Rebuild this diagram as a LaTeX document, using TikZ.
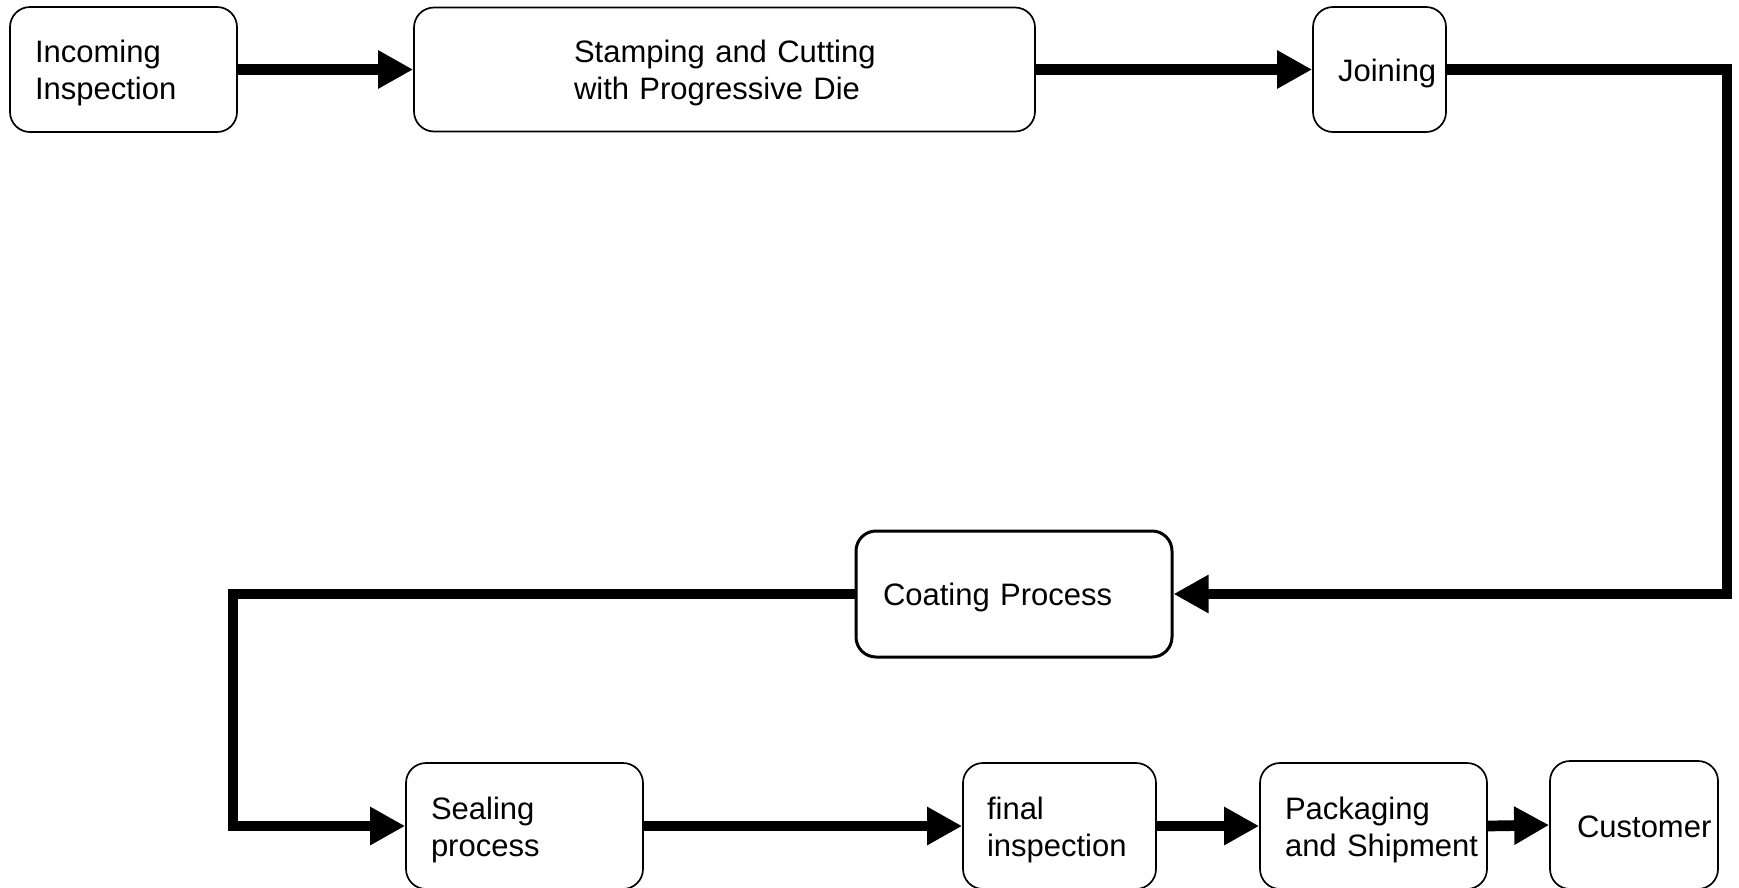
\documentclass[tikz,border=0pt]{standalone}
\usepackage{fontspec}
\setmainfont{Liberation Sans}
\usetikzlibrary{arrows.meta}
\begin{document}
\begin{tikzpicture}[x=1pt,y=-1pt,
  box/.style={draw=black, line width=1.7pt, rounded corners=20pt, align=left,
    font=\fontsize{31}{37}\selectfont, inner ysep=0pt,
    execute at begin node={\rule{0pt}{#1}}},
  box/.default=29.5pt,
  flow/.style={line width=10.7pt, -{Triangle[length=35pt,width=36pt]}}]
\useasboundingbox[fill=white] (0,0) rectangle (1739,887);

\node[box, text width=177pt, inner xsep=25pt, minimum height=125pt] (inc) at (123.5,69.5) {\mbox{Incoming}\\\mbox{Inspection}};
\node[box, text width=301pt, inner xsep=160pt, minimum height=124pt] (stamp) at (724.5,69.5) {\mbox{Stamping and Cutting}\\\mbox{with Progressive Die}};
\node[box, text width=83pt, inner xsep=25pt, minimum height=125pt] (join) at (1379.5,69.5) {\mbox{Joining}};
\node[box, line width=3pt, text width=262pt, inner xsep=27pt, minimum height=126pt] (coat) at (1014,594) {\mbox{Coating Process}};
\node[box, text width=187pt, inner xsep=25pt, minimum height=126pt] (seal) at (524.5,826) {\mbox{Sealing}\\\mbox{process}};
\node[box, text width=145pt, inner xsep=24pt, minimum height=126pt] (final) at (1059.5,826) {\mbox{final}\\\mbox{inspection}};
\node[box, text width=177pt, inner xsep=25pt, minimum height=126pt] (pack) at (1373.5,826) {\mbox{Packaging}\\\mbox{and Shipment}};
\node[box=25pt, text width=114pt, inner xsep=27pt, minimum height=128pt] (cust) at (1634,825) {\mbox{Customer}};

\coordinate (c1) at (1727,69.5);
\coordinate (c2) at (233,594);

\draw[flow] (inc.east) -- (stamp.west);
\draw[flow] (stamp.east) -- (join.west);
\draw[flow] (join.east) -- (c1) |- (coat.east);
\draw[flow] (coat.west) -- (c2) |- (seal.west);
\draw[flow] (seal.east) -- (final.west);
\draw[flow] (final.east) -- (pack.west);
\draw[flow] (pack.east) -- (cust.west);
\end{tikzpicture}
\end{document}
